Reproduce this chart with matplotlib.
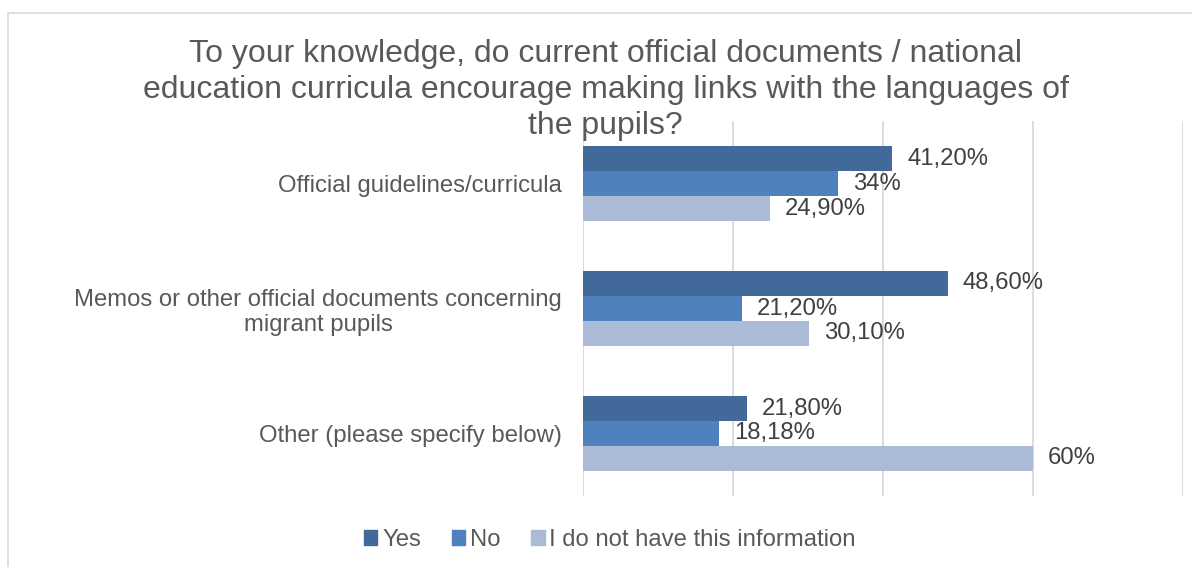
import matplotlib.pyplot as plt
from matplotlib.patches import Rectangle, Patch
import numpy as np

plt.rcParams['font.family'] = ['Liberation Sans', 'DejaVu Sans']

# datos
categories = ['Official guidelines/curricula',
              'Memos or other official documents concerning\nmigrant pupils',
              'Other (please specify below)']
series = ['Yes', 'No', 'I do not have this information']
yes_vals = [41.2, 48.6, 21.8]
no_vals = [34, 21.2, 18.18]
info_vals = [24.9, 30.1, 60]
yes_labels = ['41,20%', '48,60%', '21,80%']
no_labels = ['34%', '21,20%', '18,18%']
info_labels = ['24,90%', '30,10%', '60%']

colors = ['#41699a', '#4f81bd', '#aabad7']
text_color = '#595959'
fs = 17.2

fig = plt.figure(figsize=(11.92, 5.67), dpi=100)
ax = fig.add_axes([583 / 1192, 1 - 496 / 567, 600 / 1192, 375 / 567])

# marco del grafico
fig.patches.append(Rectangle((8 / 1192, -0.05), 1.1, 1 - 13 / 567 + 0.05,
                             transform=fig.transFigure, fill=False,
                             edgecolor='#d9d9d9', linewidth=1.2))

y = np.arange(len(categories))
h = 0.2
all_vals = [yes_vals, no_vals, info_vals]
all_labels = [yes_labels, no_labels, info_labels]
for i, (vals, labs) in enumerate(zip(all_vals, all_labels)):
    pos = y + (i - 1) * h
    ax.barh(pos, vals, height=h, color=colors[i], label=series[i], zorder=3)
    for p, v, t in zip(pos, vals, labs):
        ax.text(v + 2, p, t, va='center', ha='left', fontsize=fs, color='#404040')

ax.set_xlim(0, 80)
ax.set_ylim(len(categories) - 0.5, -0.5)
ax.set_xticks([0, 20, 40, 60, 80])
ax.set_xticklabels([])
ax.tick_params(axis='x', length=0)
ax.tick_params(axis='y', length=0, pad=15)
ax.set_yticks(y)
ax.set_yticklabels(categories, fontsize=fs, color=text_color, ha='right', multialignment='center')
ax.grid(axis='x', color='#d9d9d9', linewidth=1.3, zorder=0)
for s in ax.spines.values():
    s.set_visible(False)

fig.text(0.508, 1 - 90 / 567, 'To your knowledge, do current official documents / national\n'
         'education curricula encourage making links with the languages of\nthe pupils?',
         ha='center', va='center', fontsize=23, color=text_color, linespacing=1.25)

handles = [Patch(color=c) for c in colors]
fig.legend(handles, series, loc='center', bbox_to_anchor=(610 / 1192, 1 - 540 / 567),
           ncol=3, frameon=False, fontsize=fs, labelcolor=text_color,
           handlelength=0.55, handleheight=0.55, handletextpad=0.2, columnspacing=1.3)

fig.savefig('out.png', dpi=100)
